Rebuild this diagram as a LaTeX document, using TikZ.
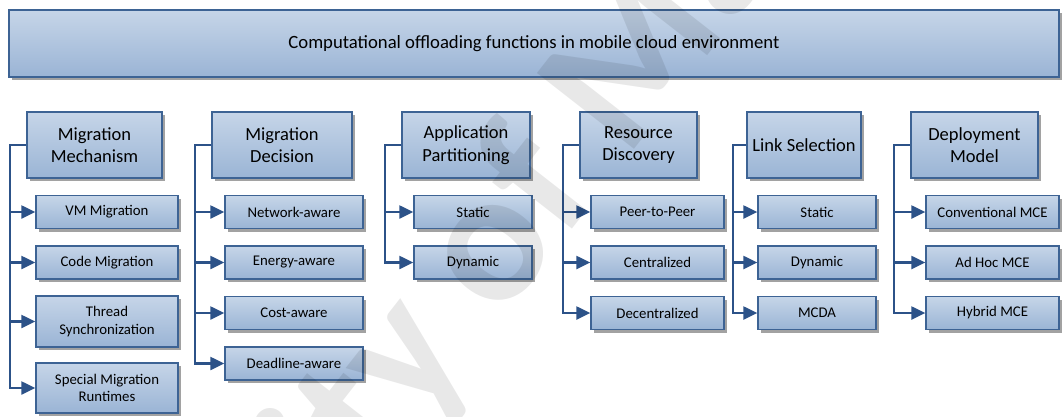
\documentclass[tikz,border=0pt]{standalone}
\usepackage{fontspec}
\setmainfont{Carlito}
\usetikzlibrary{arrows.meta,shadows}

\definecolor{boxtop}{HTML}{C6D5E8}
\definecolor{boxbot}{HTML}{9AB4D5}
\definecolor{boxline}{HTML}{3D6394}
\definecolor{linkblue}{HTML}{2C5288}
\definecolor{shadowgray}{HTML}{A2A2A2}

\tikzset{
  box/.style={draw=boxline, line width=1.3pt, top color=boxtop, bottom color=boxbot,
    drop shadow={shadow xshift=3pt, shadow yshift=-3pt, fill=shadowgray, opacity=1},
    inner sep=0pt, align=center, text=black},
  titlebox/.style={box, font=\fontsize{18.7}{22.5}\selectfont},
  catbox/.style={box, minimum height=66pt, font=\fontsize{18.5}{22.5}\selectfont},
  subbox/.style={box, minimum height=33pt, font=\fontsize{14.8}{17.5}\selectfont},
  link/.style={draw=linkblue, line width=2.2pt},
  feed/.style={link, -{Triangle[length=14pt,width=13pt]}},
  wmark/.style={text=black, text opacity=0.09, inner sep=0pt,
    font=\bfseries\fontsize{190}{190}\selectfont},
}

\begin{document}
\begin{tikzpicture}[x=1pt, y=-1pt]
\useasboundingbox (0,0) rectangle (1062,416);

% heading
\node[titlebox, minimum width=1050pt, minimum height=67pt] (top) at (534,43.5)
  {Computational offloading functions in mobile cloud environment};

% categories
\node[catbox, minimum width=135pt] (c1) at (94.5,145) {Migration\\Mechanism};
\node[catbox, minimum width=140pt] (c2) at (282,145) {Migration\\Decision};
\node[catbox, minimum width=128pt] (c3) at (466,145) {Application\\Partitioning};
\node[catbox, minimum width=117pt] (c4) at (638.5,145) {Resource\\Discovery};
\node[catbox, minimum width=114pt] (c5) at (804,145) {Link Selection};
\node[catbox, minimum width=127pt] (c6) at (974.5,145) {Deployment\\Model};

% migration mechanism
\node[subbox, minimum width=142pt] (s11) at (107,212) {VM Migration};
\node[subbox, minimum width=142pt] (s12) at (107,262.5) {Code Migration};
\node[subbox, minimum width=142pt, minimum height=51pt] (s13) at (107,321.5) {Thread\\Synchronization};
\node[subbox, minimum width=142pt, minimum height=50pt] (s14) at (107,388) {Special Migration\\Runtimes};

% migration decision
\node[subbox, minimum width=138pt] (s21) at (294,212) {Network-aware};
\node[subbox, minimum width=138pt] (s22) at (294,262.5) {Energy-aware};
\node[subbox, minimum width=138pt] (s23) at (294,313) {Cost-aware};
\node[subbox, minimum width=138pt] (s24) at (294,363.5) {Deadline-aware};

% application partitioning
\node[subbox, minimum width=118pt] (s31) at (473,212) {Static};
\node[subbox, minimum width=118pt] (s32) at (473,262.5) {Dynamic};

% resource discovery
\node[subbox, minimum width=133pt] (s41) at (657.5,212) {Peer-to-Peer};
\node[subbox, minimum width=133pt] (s42) at (657.5,262.5) {Centralized};
\node[subbox, minimum width=133pt] (s43) at (657.5,313) {Decentralized};

% link selection
\node[subbox, minimum width=118pt] (s51) at (817,212) {Static};
\node[subbox, minimum width=118pt] (s52) at (817,262.5) {Dynamic};
\node[subbox, minimum width=118pt] (s53) at (817,313) {MCDA};

% deployment model
\node[subbox, minimum width=133pt] (s61) at (992.5,212) {Conventional MCE};
\node[subbox, minimum width=133pt] (s62) at (992.5,262.5) {Ad Hoc MCE};
\node[subbox, minimum width=133pt] (s63) at (992.5,313) {Hybrid MCE};

% bus corners left of each category
\coordinate (b1) at (10,145);
\coordinate (b2) at (195,145);
\coordinate (b3) at (385,145);
\coordinate (b4) at (563,145);
\coordinate (b5) at (733,145);
\coordinate (b6) at (894,145);

% connectors: spine down to the last item, branches to the others
\draw[feed] (c1.west) -- (b1) |- (s14.west);
\foreach \s in {s11,s12,s13} \draw[feed] (b1 |- \s.west) -- (\s.west);

\draw[feed] (c2.west) -- (b2) |- (s24.west);
\foreach \s in {s21,s22,s23} \draw[feed] (b2 |- \s.west) -- (\s.west);

\draw[feed] (c3.west) -- (b3) |- (s32.west);
\draw[feed] (b3 |- s31.west) -- (s31.west);

\draw[feed] (c4.west) -- (b4) |- (s43.west);
\foreach \s in {s41,s42} \draw[feed] (b4 |- \s.west) -- (\s.west);

\draw[feed] (c5.west) -- (b5) |- (s53.west);
\foreach \s in {s51,s52} \draw[feed] (b5 |- \s.west) -- (\s.west);

\draw[feed] (c6.west) -- (b6) |- (s63.west);
\foreach \s in {s61,s62} \draw[feed] (b6 |- \s.west) -- (\s.west);

% watermark across the page
\begin{scope}
  \clip (0,0) rectangle (1062,416);
  \node[wmark, rotate=52, anchor=base] (wm) at (482,345) {University of Malaya};
\end{scope}
\end{tikzpicture}
\end{document}
